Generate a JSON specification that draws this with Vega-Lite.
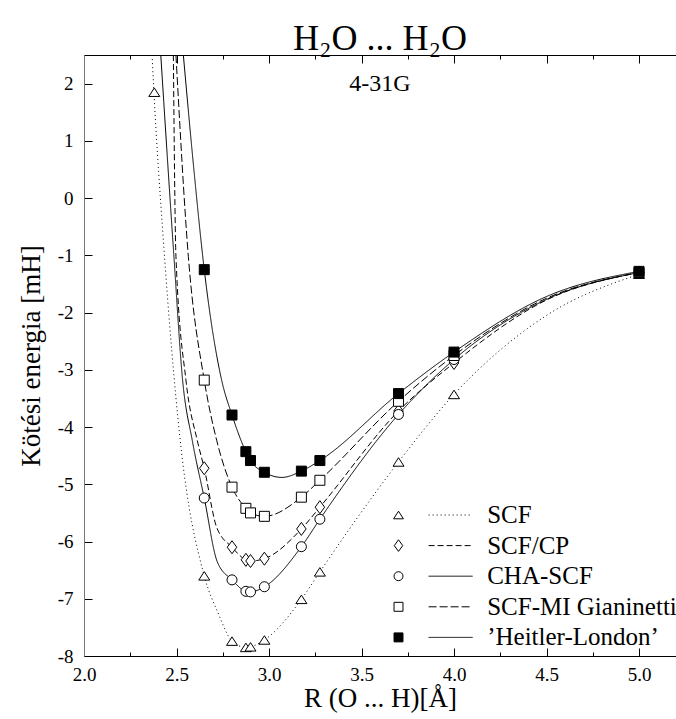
{
  "$schema": "https://vega.github.io/schema/vega-lite/v6.json",
  "width": 592,
  "height": 601,
  "autosize": {"type": "none"},
  "padding": {"left": 84, "top": 55, "right": 0, "bottom": 63},
  "background": "white",
  "config": {"font": "Liberation Serif", "view": {"stroke": null}},
  "title": {"text": "H₂O ... H₂O", "font": "Liberation Serif", "fontSize": 36, "fontWeight": "normal", "color": "black", "anchor": "middle", "frame": "group", "baseline": "alphabetic", "offset": -31},
  "datasets": {
    "curves": [
      {"series": "SCF", "x": 2.368, "y": 2.5},
      {"series": "SCF", "x": 2.378, "y": 1.85},
      {"series": "SCF", "x": 2.429, "y": -0.74},
      {"series": "SCF", "x": 2.52, "y": -4.23},
      {"series": "SCF", "x": 2.65, "y": -6.6},
      {"series": "SCF", "x": 2.725, "y": -7.25},
      {"series": "SCF", "x": 2.8, "y": -7.74},
      {"series": "SCF", "x": 2.875, "y": -7.85},
      {"series": "SCF", "x": 2.9, "y": -7.84},
      {"series": "SCF", "x": 2.975, "y": -7.72},
      {"series": "SCF", "x": 3.175, "y": -7.01},
      {"series": "SCF", "x": 3.275, "y": -6.53},
      {"series": "SCF", "x": 3.7, "y": -4.61},
      {"series": "SCF", "x": 4.0, "y": -3.43},
      {"series": "SCF", "x": 4.5, "y": -2.05},
      {"series": "SCF", "x": 5.0, "y": -1.33},
      {"series": "SCF/CP", "x": 2.483, "y": 2.5},
      {"series": "SCF/CP", "x": 2.497, "y": -1.02},
      {"series": "SCF/CP", "x": 2.551, "y": -3.18},
      {"series": "SCF/CP", "x": 2.612, "y": -4.23},
      {"series": "SCF/CP", "x": 2.65, "y": -4.72},
      {"series": "SCF/CP", "x": 2.717, "y": -5.75},
      {"series": "SCF/CP", "x": 2.8, "y": -6.1},
      {"series": "SCF/CP", "x": 2.875, "y": -6.32},
      {"series": "SCF/CP", "x": 2.9, "y": -6.34},
      {"series": "SCF/CP", "x": 2.975, "y": -6.3},
      {"series": "SCF/CP", "x": 3.175, "y": -5.78},
      {"series": "SCF/CP", "x": 3.275, "y": -5.4},
      {"series": "SCF/CP", "x": 3.7, "y": -3.72},
      {"series": "SCF/CP", "x": 4.0, "y": -2.88},
      {"series": "SCF/CP", "x": 4.5, "y": -1.78},
      {"series": "SCF/CP", "x": 5.0, "y": -1.3},
      {"series": "CHA-SCF", "x": 2.415, "y": 2.5},
      {"series": "CHA-SCF", "x": 2.486, "y": -1.02},
      {"series": "CHA-SCF", "x": 2.533, "y": -3.18},
      {"series": "CHA-SCF", "x": 2.585, "y": -4.23},
      {"series": "CHA-SCF", "x": 2.65, "y": -5.24},
      {"series": "CHA-SCF", "x": 2.72, "y": -6.35},
      {"series": "CHA-SCF", "x": 2.8, "y": -6.67},
      {"series": "CHA-SCF", "x": 2.875, "y": -6.87},
      {"series": "CHA-SCF", "x": 2.9, "y": -6.88},
      {"series": "CHA-SCF", "x": 2.975, "y": -6.79},
      {"series": "CHA-SCF", "x": 3.175, "y": -6.09},
      {"series": "CHA-SCF", "x": 3.275, "y": -5.61},
      {"series": "CHA-SCF", "x": 3.7, "y": -3.78},
      {"series": "CHA-SCF", "x": 4.0, "y": -2.82},
      {"series": "CHA-SCF", "x": 4.5, "y": -1.77},
      {"series": "CHA-SCF", "x": 5.0, "y": -1.3},
      {"series": "SCF-MI Gianinetti", "x": 2.497, "y": 2.5},
      {"series": "SCF-MI Gianinetti", "x": 2.564, "y": -1.02},
      {"series": "SCF-MI Gianinetti", "x": 2.65, "y": -3.18},
      {"series": "SCF-MI Gianinetti", "x": 2.717, "y": -4.23},
      {"series": "SCF-MI Gianinetti", "x": 2.8, "y": -5.05},
      {"series": "SCF-MI Gianinetti", "x": 2.875, "y": -5.42},
      {"series": "SCF-MI Gianinetti", "x": 2.9, "y": -5.5},
      {"series": "SCF-MI Gianinetti", "x": 2.975, "y": -5.56},
      {"series": "SCF-MI Gianinetti", "x": 3.175, "y": -5.225},
      {"series": "SCF-MI Gianinetti", "x": 3.275, "y": -4.93},
      {"series": "SCF-MI Gianinetti", "x": 3.7, "y": -3.55},
      {"series": "SCF-MI Gianinetti", "x": 4.0, "y": -2.75},
      {"series": "SCF-MI Gianinetti", "x": 4.5, "y": -1.75},
      {"series": "SCF-MI Gianinetti", "x": 5.0, "y": -1.3},
      {"series": "’Heitler-London’", "x": 2.537, "y": 2.5},
      {"series": "’Heitler-London’", "x": 2.596, "y": 0.43},
      {"series": "’Heitler-London’", "x": 2.65, "y": -1.25},
      {"series": "’Heitler-London’", "x": 2.744, "y": -3.18},
      {"series": "’Heitler-London’", "x": 2.8, "y": -3.79},
      {"series": "’Heitler-London’", "x": 2.875, "y": -4.43},
      {"series": "’Heitler-London’", "x": 2.9, "y": -4.585},
      {"series": "’Heitler-London’", "x": 2.975, "y": -4.79},
      {"series": "’Heitler-London’", "x": 3.07, "y": -4.88},
      {"series": "’Heitler-London’", "x": 3.175, "y": -4.77},
      {"series": "’Heitler-London’", "x": 3.275, "y": -4.585},
      {"series": "’Heitler-London’", "x": 3.7, "y": -3.415},
      {"series": "’Heitler-London’", "x": 4.0, "y": -2.69},
      {"series": "’Heitler-London’", "x": 4.5, "y": -1.72},
      {"series": "’Heitler-London’", "x": 5.0, "y": -1.28}
    ],
    "points": [
      {"series": "SCF", "x": 2.38, "y": 1.85},
      {"series": "SCF", "x": 2.65, "y": -6.6},
      {"series": "SCF", "x": 2.8, "y": -7.74},
      {"series": "SCF", "x": 2.875, "y": -7.85},
      {"series": "SCF", "x": 2.9, "y": -7.84},
      {"series": "SCF", "x": 2.975, "y": -7.72},
      {"series": "SCF", "x": 3.175, "y": -7.01},
      {"series": "SCF", "x": 3.275, "y": -6.53},
      {"series": "SCF", "x": 3.7, "y": -4.61},
      {"series": "SCF", "x": 4.0, "y": -3.43},
      {"series": "SCF", "x": 5.0, "y": -1.33},
      {"series": "SCF/CP", "x": 2.65, "y": -4.72},
      {"series": "SCF/CP", "x": 2.8, "y": -6.1},
      {"series": "SCF/CP", "x": 2.875, "y": -6.32},
      {"series": "SCF/CP", "x": 2.9, "y": -6.34},
      {"series": "SCF/CP", "x": 2.975, "y": -6.3},
      {"series": "SCF/CP", "x": 3.175, "y": -5.78},
      {"series": "SCF/CP", "x": 3.275, "y": -5.4},
      {"series": "SCF/CP", "x": 3.7, "y": -3.72},
      {"series": "SCF/CP", "x": 4.0, "y": -2.88},
      {"series": "SCF/CP", "x": 5.0, "y": -1.3},
      {"series": "CHA-SCF", "x": 2.65, "y": -5.24},
      {"series": "CHA-SCF", "x": 2.8, "y": -6.67},
      {"series": "CHA-SCF", "x": 2.875, "y": -6.87},
      {"series": "CHA-SCF", "x": 2.9, "y": -6.88},
      {"series": "CHA-SCF", "x": 2.975, "y": -6.79},
      {"series": "CHA-SCF", "x": 3.175, "y": -6.09},
      {"series": "CHA-SCF", "x": 3.275, "y": -5.61},
      {"series": "CHA-SCF", "x": 3.7, "y": -3.78},
      {"series": "CHA-SCF", "x": 4.0, "y": -2.82},
      {"series": "CHA-SCF", "x": 5.0, "y": -1.3},
      {"series": "SCF-MI Gianinetti", "x": 2.65, "y": -3.18},
      {"series": "SCF-MI Gianinetti", "x": 2.8, "y": -5.05},
      {"series": "SCF-MI Gianinetti", "x": 2.875, "y": -5.42},
      {"series": "SCF-MI Gianinetti", "x": 2.9, "y": -5.5},
      {"series": "SCF-MI Gianinetti", "x": 2.975, "y": -5.56},
      {"series": "SCF-MI Gianinetti", "x": 3.175, "y": -5.225},
      {"series": "SCF-MI Gianinetti", "x": 3.275, "y": -4.93},
      {"series": "SCF-MI Gianinetti", "x": 3.7, "y": -3.55},
      {"series": "SCF-MI Gianinetti", "x": 4.0, "y": -2.75},
      {"series": "SCF-MI Gianinetti", "x": 5.0, "y": -1.3},
      {"series": "’Heitler-London’", "x": 2.65, "y": -1.25},
      {"series": "’Heitler-London’", "x": 2.8, "y": -3.79},
      {"series": "’Heitler-London’", "x": 2.875, "y": -4.43},
      {"series": "’Heitler-London’", "x": 2.9, "y": -4.585},
      {"series": "’Heitler-London’", "x": 2.975, "y": -4.79},
      {"series": "’Heitler-London’", "x": 3.175, "y": -4.77},
      {"series": "’Heitler-London’", "x": 3.275, "y": -4.585},
      {"series": "’Heitler-London’", "x": 3.7, "y": -3.415},
      {"series": "’Heitler-London’", "x": 4.0, "y": -2.69},
      {"series": "’Heitler-London’", "x": 5.0, "y": -1.28}
    ]
  },
  "resolve": {"axis": {"x": "independent"}, "legend": {"strokeDash": "independent"}},
  "layer": [
    {
      "data": {"name": "curves"},
      "mark": {"type": "line", "interpolate": "monotone", "clip": true, "color": "black", "strokeWidth": 1},
      "encoding": {
        "x": {
          "field": "x", "type": "quantitative",
          "scale": {"domain": [2, 5.2], "nice": false, "zero": false},
          "axis": {
            "orient": "bottom",
            "values": [2, 2.25, 2.5, 2.75, 3, 3.25, 3.5, 3.75, 4, 4.25, 4.5, 4.75, 5],
            "labelExpr": "datum.value % 0.5 === 0 ? format(datum.value, '.1f') : ''",
            "tickSize": {"condition": {"test": "datum.value % 0.5 === 0", "value": -8}, "value": -4},
            "tickColor": "black", "domainColor": "black", "grid": false,
            "labelFont": "Liberation Serif", "labelFontSize": 19, "labelColor": "black", "labelPadding": 17,
            "labelFlush": false, "labelOverlap": false,
            "title": "R (O ... H)[Å]", "titleFont": "Liberation Serif", "titleFontSize": 27,
            "titleFontWeight": "normal", "titleColor": "black", "titlePadding": -3
          }
        },
        "y": {
          "field": "y", "type": "quantitative",
          "scale": {"domain": [-8, 2.5], "nice": false, "zero": false},
          "axis": {
            "values": [-8, -7.5, -7, -6.5, -6, -5.5, -5, -4.5, -4, -3.5, -3, -2.5, -2, -1.5, -1, -0.5, 0, 0.5, 1, 1.5, 2],
            "labelExpr": "datum.value % 1 === 0 ? '' + datum.value : ''",
            "tickSize": {"condition": {"test": "datum.value % 1 === 0", "value": -8}, "value": -4},
            "tickColor": "black", "domainColor": "#777777", "grid": false,
            "labelFont": "Liberation Serif", "labelFontSize": 19, "labelColor": "black", "labelPadding": 19,
            "labelFlush": false, "labelOverlap": false,
            "title": "Kötési energia [mH]", "titleFont": "Liberation Serif", "titleFontSize": 27,
            "titleFontWeight": "normal", "titleColor": "black", "titlePadding": 12
          }
        },
        "strokeDash": {
          "field": "series", "type": "nominal",
          "scale": {"domain": ["SCF", "SCF/CP", "CHA-SCF", "SCF-MI Gianinetti", "’Heitler-London’"], "range": [[1, 3], [6, 3], [1, 0], [8, 3], [1, 0]]},
          "legend": {
            "orient": "none", "legendX": 354.1, "legendY": 447.5, "title": null, "padding": 0,
            "symbolType": "M-5,0H5", "symbolSize": 77.44, "symbolStrokeWidth": 1, "symbolStrokeColor": "black",
            "labelFont": "Liberation Serif", "labelFontSize": 25, "labelColor": "black", "labelOffset": 24.1,
            "rowPadding": 4.6, "labelLimit": 400
          }
        }
      }
    },
    {
      "data": {"name": "points"},
      "mark": {"type": "point", "filled": false, "strokeWidth": 1, "opacity": 1, "size": 100},
      "encoding": {
        "x": {
          "field": "x", "type": "quantitative",
          "scale": {"domain": [2, 5.2], "nice": false, "zero": false},
          "axis": {
            "orient": "top",
            "values": [2, 2.25, 2.5, 2.75, 3, 3.25, 3.5, 3.75, 4, 4.25, 4.5, 4.75, 5],
            "labels": false,
            "tickSize": {"condition": {"test": "datum.value % 0.5 === 0", "value": -8}, "value": -4},
            "tickColor": "black", "domainColor": "black", "grid": false, "title": null
          }
        },
        "y": {"field": "y", "type": "quantitative", "scale": {"domain": [-8, 2.5], "nice": false, "zero": false}},
        "shape": {
          "field": "series", "type": "nominal",
          "scale": {"domain": ["SCF", "SCF/CP", "CHA-SCF", "SCF-MI Gianinetti", "’Heitler-London’"], "range": ["M0,-0.85L1.1,0.85L-1.1,0.85Z", "M0,-1.3L0.95,0L0,1.3L-0.95,0Z", "circle", "square", "square"]},
          "legend": {
            "orient": "none", "legendX": 302, "legendY": 447.5, "title": null, "padding": 0,
            "symbolSize": 80, "symbolStrokeWidth": 1,
            "labelFontSize": 25, "labelExpr": "' '", "rowPadding": 4.6
          }
        },
        "color": {
          "field": "series", "type": "nominal",
          "scale": {"domain": ["SCF", "SCF/CP", "CHA-SCF", "SCF-MI Gianinetti", "’Heitler-London’"], "range": ["black", "black", "black", "black", "black"]},
          "legend": {
            "orient": "none", "legendX": 302, "legendY": 447.5, "title": null, "padding": 0,
            "symbolSize": 80, "symbolStrokeWidth": 1,
            "labelFontSize": 25, "labelExpr": "' '", "rowPadding": 4.6
          }
        },
        "fill": {
          "field": "series", "type": "nominal",
          "scale": {"domain": ["SCF", "SCF/CP", "CHA-SCF", "SCF-MI Gianinetti", "’Heitler-London’"], "range": ["white", "white", "white", "white", "black"]},
          "legend": {
            "orient": "none", "legendX": 302, "legendY": 447.5, "title": null, "padding": 0,
            "symbolSize": 80, "symbolStrokeWidth": 1,
            "labelFontSize": 25, "labelExpr": "' '", "rowPadding": 4.6
          }
        }
      }
    },
    {
      "data": {"values": [{}]},
      "mark": {"type": "text", "font": "Liberation Serif", "fontSize": 24, "color": "black", "align": "center", "baseline": "middle"},
      "encoding": {
        "x": {"datum": 3.6, "type": "quantitative", "axis": null},
        "y": {"datum": 2.0, "type": "quantitative"},
        "text": {"value": "4-31G"}
      }
    }
  ]
}
